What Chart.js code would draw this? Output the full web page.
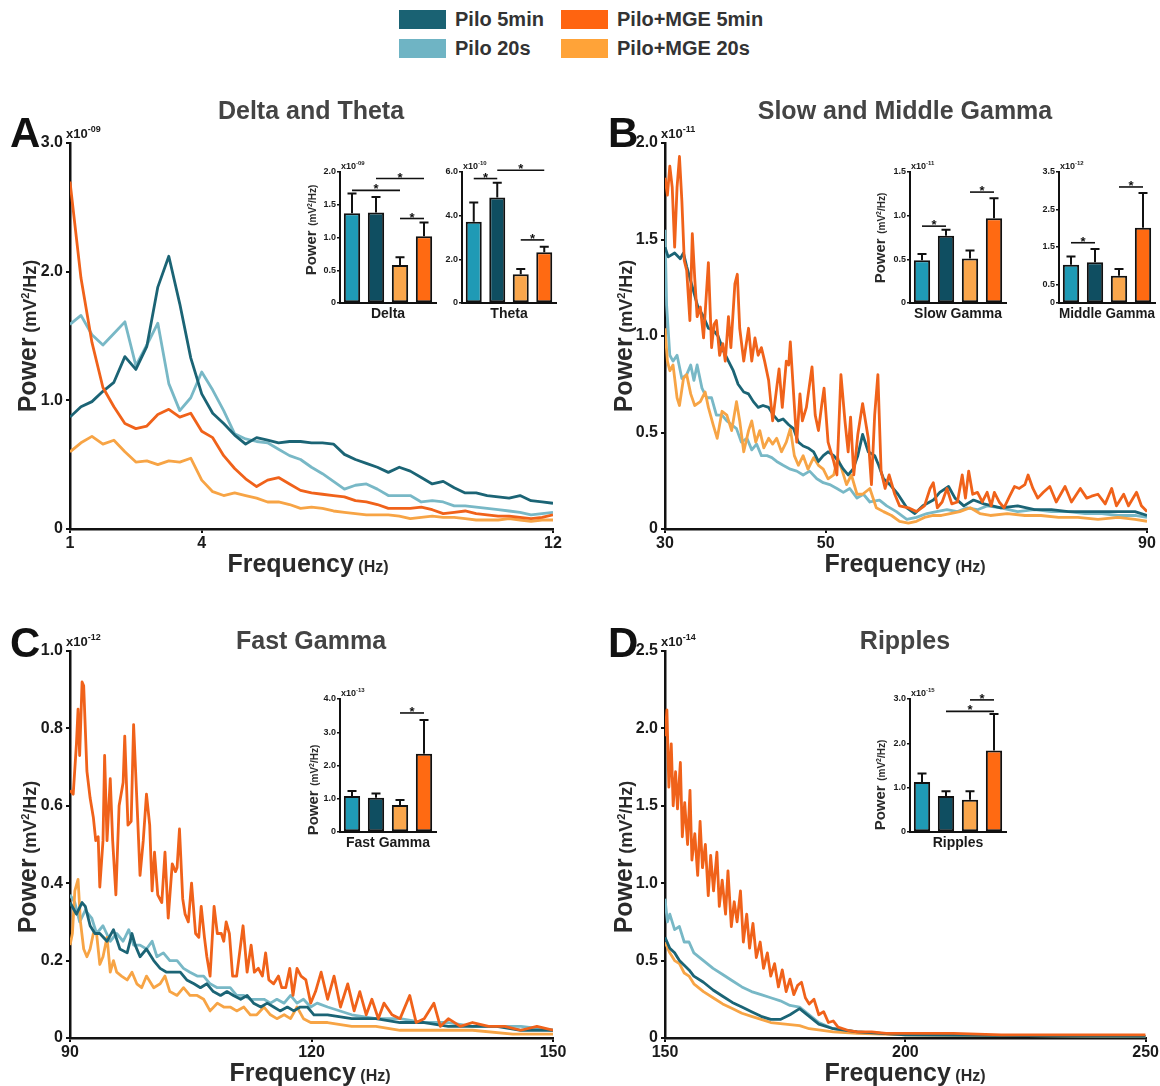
<!DOCTYPE html>
<html><head><meta charset="utf-8">
<script src="https://cdn.jsdelivr.net/npm/chart.js"></script>
<style>
html,body{margin:0;padding:0;background:#fff;width:1160px;height:1086px;overflow:hidden;font-family:"Liberation Sans",Arial,sans-serif;}
canvas{position:absolute;}
.t{position:absolute;white-space:nowrap;font-weight:bold;line-height:1;}
.c{transform:translate(-50%,-50%);}
.rot{position:absolute;white-space:nowrap;font-weight:bold;line-height:1;transform:translate(-50%,-50%) rotate(-90deg);color:#2a2a2a;}
.sw{position:absolute;width:47px;height:19px;}
</style></head><body>

<script>
// ---------------- DATA ----------------
const GROUPS = ['Pilo 20s','Pilo 5min','Pilo+MGE 20s','Pilo+MGE 5min'];
const SERIES_NAMES = ['Pilo+MGE 5min','Pilo 5min','Pilo+MGE 20s','Pilo 20s'];

// Panel A: Delta and Theta (x10^-09)
const freqA = [1,1.25,1.5,1.75,2,2.25,2.5,2.75,3,3.25,3.5,3.75,4,4.25,4.5,4.75,5,5.25,5.5,5.75,6,6.25,6.5,6.75,7,7.25,7.5,7.75,8,8.25,8.5,8.75,9,9.25,9.5,9.75,10,10.25,10.5,10.75,11,11.25,11.5,11.75,12];
const pilo5A = [0.87,0.95,0.99,1.07,1.14,1.34,1.24,1.42,1.88,2.12,1.75,1.33,1.05,0.90,0.82,0.73,0.66,0.71,0.69,0.67,0.68,0.68,0.67,0.67,0.66,0.58,0.54,0.51,0.48,0.44,0.48,0.45,0.40,0.35,0.37,0.32,0.28,0.28,0.26,0.25,0.24,0.26,0.22,0.21,0.20];
const pilo20A = [1.59,1.66,1.51,1.43,1.52,1.61,1.27,1.43,1.60,1.13,0.92,1.02,1.22,1.08,0.92,0.74,0.70,0.68,0.67,0.62,0.57,0.54,0.48,0.43,0.37,0.31,0.34,0.35,0.31,0.26,0.26,0.26,0.21,0.22,0.21,0.18,0.18,0.17,0.16,0.15,0.14,0.13,0.11,0.12,0.13];
const mge5A = [2.70,1.95,1.45,1.10,0.95,0.82,0.78,0.80,0.89,0.93,0.87,0.90,0.76,0.71,0.57,0.47,0.39,0.33,0.38,0.40,0.35,0.30,0.28,0.27,0.26,0.25,0.22,0.21,0.19,0.16,0.16,0.16,0.17,0.15,0.12,0.13,0.14,0.12,0.11,0.10,0.10,0.09,0.08,0.09,0.11];
const mge20A = [0.60,0.67,0.72,0.66,0.69,0.60,0.52,0.53,0.50,0.53,0.52,0.55,0.38,0.29,0.26,0.28,0.26,0.24,0.21,0.21,0.19,0.16,0.17,0.16,0.14,0.13,0.12,0.11,0.11,0.11,0.10,0.08,0.09,0.10,0.09,0.09,0.08,0.07,0.07,0.07,0.08,0.07,0.06,0.07,0.07];
const xTicksA = [1,4,12], xLabelsA = ['1','4','12'];
const yTicksA = [0,1,2,3], yLabelsA = ['0','1.0','2.0','3.0'];

// Panel B: Slow and Middle Gamma (x10^-11)
const fB_mge5 = [30.0,30.3,30.6,30.9,31.2,31.5,31.8,32.1,32.4,32.7,33.1,33.4,33.7,34.0,34.4,34.8,35.4,35.8,36.1,36.4,36.8,37.2,37.5,37.9,38.2,38.7,39.0,39.3,39.8,40.4,40.8,41.2,41.6,42.0,42.4,42.9,43.4,43.9,44.2,44.6,45.1,45.4,45.6,46.1,46.4,46.8,47.1,47.6,48.3,48.7,49.1,49.5,49.8,50.3,51.0,51.4,51.9,52.4,52.8,53.1,53.5,54.0,54.6,55.3,55.7,56.1,56.5,56.9,57.4,57.9,58.6,59.2,60.3,61.3,62.3,63.0,63.4,63.9,64.5,65.1,65.7,66.4,67.0,67.4,67.8,68.3,68.9,69.5,70.1,70.6,71.0,71.6,72.2,72.9,73.5,74.1,74.8,75.2,75.8,76.4,77.1,77.9,78.7,79.8,80.6,81.7,82.5,83.1,83.9,84.8,85.6,86.2,87.1,87.7,88.7,89.3,90.0];
const pB_mge5 = [1.82,1.73,1.88,1.77,1.46,1.77,1.93,1.70,1.39,1.34,1.08,1.53,1.30,1.10,1.15,0.99,1.38,0.94,1.06,1.08,0.90,0.96,0.87,1.10,0.94,1.27,1.32,1.04,0.87,1.04,0.87,0.99,0.90,0.94,0.87,0.77,0.56,0.73,0.83,0.63,0.87,0.85,0.97,0.64,0.45,0.70,0.56,0.63,0.84,0.59,0.51,0.64,0.73,0.45,0.35,0.28,0.80,0.56,0.40,0.58,0.28,0.49,0.65,0.47,0.23,0.59,0.80,0.30,0.21,0.28,0.18,0.12,0.11,0.09,0.12,0.21,0.24,0.11,0.14,0.21,0.13,0.14,0.28,0.16,0.30,0.18,0.19,0.14,0.19,0.12,0.19,0.14,0.11,0.17,0.22,0.21,0.23,0.28,0.21,0.16,0.19,0.22,0.14,0.22,0.14,0.21,0.16,0.17,0.18,0.13,0.21,0.12,0.18,0.12,0.19,0.12,0.09];
const fB_pilo5 = [30.0,30.4,31.2,31.9,32.3,32.7,33.3,34.1,34.8,35.4,36.0,36.6,37.3,37.9,38.5,39.1,39.8,40.4,41.0,41.6,42.2,42.9,43.5,44.1,44.7,45.4,46.0,46.6,47.2,47.8,48.5,49.1,49.7,50.3,51.0,51.6,52.2,52.8,53.4,54.0,54.6,55.3,56.1,56.6,57.2,58.0,59.0,60.1,61.1,62.1,63.4,64.2,65.3,66.1,67.2,68.4,69.7,71.8,73.9,76.0,78.1,80.2,82.3,84.4,86.4,88.5,90.0];
const pB_pilo5 = [1.46,1.41,1.43,1.40,1.43,1.36,1.27,1.15,1.10,1.04,1.03,1.00,0.92,0.87,0.82,0.75,0.71,0.70,0.66,0.63,0.64,0.63,0.59,0.56,0.57,0.54,0.52,0.45,0.43,0.42,0.40,0.35,0.38,0.40,0.38,0.35,0.31,0.28,0.31,0.38,0.49,0.40,0.38,0.33,0.26,0.23,0.18,0.11,0.08,0.12,0.15,0.19,0.22,0.16,0.12,0.15,0.13,0.11,0.12,0.10,0.10,0.09,0.09,0.09,0.09,0.09,0.07];
const fB_pilo20 = [30.0,30.2,30.6,31.0,31.5,32.1,32.7,33.2,33.6,34.0,34.6,35.2,35.8,36.4,37.1,37.7,38.3,38.9,39.5,40.2,40.8,41.4,42.0,42.7,43.3,43.9,44.7,45.6,46.4,47.2,48.0,48.9,49.7,50.5,51.4,52.2,53.0,53.9,54.7,55.5,56.7,57.6,58.8,60.1,61.3,62.6,63.8,65.1,66.4,67.6,68.9,70.1,71.8,73.9,76.0,78.1,80.2,82.3,84.4,86.4,88.5,90.0];
const pB_pilo20 = [1.55,1.16,0.90,0.87,0.90,0.78,0.80,0.85,0.77,0.85,0.73,0.68,0.68,0.59,0.59,0.56,0.54,0.52,0.45,0.47,0.41,0.44,0.38,0.38,0.37,0.35,0.33,0.31,0.30,0.28,0.30,0.26,0.24,0.23,0.21,0.19,0.21,0.16,0.18,0.14,0.15,0.12,0.09,0.05,0.06,0.08,0.09,0.10,0.09,0.11,0.10,0.12,0.11,0.09,0.10,0.09,0.09,0.08,0.08,0.07,0.07,0.06];
const fB_mge20 = [30.0,30.3,30.6,31.0,31.5,31.8,32.3,32.7,33.2,33.7,34.4,35.0,35.4,36.0,36.5,37.1,37.7,38.3,38.9,39.3,39.8,40.4,40.8,41.3,41.8,42.3,42.9,43.4,43.9,44.5,45.1,45.6,46.1,46.6,47.2,47.8,48.5,49.1,49.7,50.3,51.0,51.5,52.0,52.6,53.2,53.9,54.6,55.5,56.3,57.2,58.2,59.2,60.3,61.3,62.3,63.4,64.4,65.5,66.7,68.0,69.2,70.5,72.6,74.8,76.8,79.0,81.4,83.9,86.4,88.5,90.0];
const pB_mge20 = [1.04,0.87,0.82,0.85,0.68,0.64,0.78,0.80,0.70,0.64,0.66,0.71,0.63,0.54,0.47,0.61,0.59,0.51,0.66,0.56,0.40,0.51,0.56,0.45,0.51,0.42,0.47,0.44,0.47,0.40,0.45,0.52,0.38,0.33,0.38,0.31,0.37,0.33,0.31,0.26,0.28,0.37,0.31,0.23,0.28,0.18,0.18,0.21,0.11,0.09,0.07,0.04,0.03,0.04,0.06,0.07,0.07,0.08,0.09,0.11,0.08,0.07,0.08,0.07,0.07,0.06,0.06,0.05,0.06,0.05,0.04];
const xTicksB = [30,50,90], xLabelsB = ['30','50','90'];
const yTicksB = [0,0.5,1,1.5,2], yLabelsB = ['0','0.5','1.0','1.5','2.0'];

// Panel C: Fast Gamma (x10^-12)
const fC_mge5 = [90.0,90.4,90.8,91.0,91.2,91.5,91.7,92.1,92.5,92.9,93.2,93.5,93.7,94.1,94.3,94.6,95.0,95.3,95.7,96.1,96.6,96.8,97.2,97.6,97.9,98.4,98.7,99.1,99.5,99.9,100.2,100.5,100.9,101.4,101.8,102.2,102.7,103.1,103.3,103.6,104.0,104.3,104.7,105.1,105.6,106.0,106.3,106.7,107.0,107.4,107.9,108.3,108.8,109.1,109.4,109.8,110.2,110.7,111.5,112.0,112.5,112.9,113.4,113.9,114.3,114.7,115.3,115.9,116.3,116.8,117.3,117.7,118.2,118.7,119.3,119.9,120.5,121.2,122.0,122.8,123.6,124.5,125.3,126.0,126.8,127.5,128.3,129.0,130.0,131.0,132.2,133.0,134.0,135.2,136.0,137.0,138.5,140.0,142.0,144.0,146.0,148.0,150.0];
const pC_mge5 = [0.64,0.63,0.76,0.85,0.73,0.92,0.91,0.69,0.62,0.57,0.51,0.52,0.39,0.51,0.73,0.51,0.67,0.51,0.37,0.60,0.66,0.78,0.55,0.56,0.81,0.57,0.42,0.51,0.63,0.55,0.38,0.48,0.37,0.35,0.48,0.31,0.45,0.43,0.44,0.54,0.36,0.32,0.30,0.40,0.27,0.26,0.34,0.26,0.21,0.16,0.34,0.27,0.27,0.25,0.30,0.27,0.16,0.16,0.29,0.17,0.24,0.17,0.18,0.16,0.22,0.15,0.14,0.16,0.13,0.13,0.18,0.11,0.18,0.16,0.15,0.09,0.12,0.17,0.10,0.16,0.08,0.14,0.07,0.12,0.06,0.10,0.05,0.09,0.06,0.05,0.11,0.04,0.05,0.09,0.03,0.05,0.03,0.04,0.03,0.03,0.02,0.03,0.02];
const fC_pilo5 = [90.0,90.8,91.5,91.9,92.5,93.1,93.7,94.6,95.4,96.2,97.1,97.7,98.1,98.7,99.5,100.4,101.2,102.0,102.9,103.7,104.5,105.4,106.2,107.0,107.8,108.7,109.5,110.3,111.2,112.0,112.8,113.7,114.5,115.3,116.1,117.0,117.8,118.6,119.5,120.3,122.0,125.0,128.0,131.0,134.0,137.0,140.0,143.0,146.0,150.0];
const pC_pilo5 = [0.35,0.32,0.35,0.34,0.29,0.27,0.27,0.25,0.28,0.23,0.22,0.27,0.24,0.21,0.23,0.20,0.18,0.17,0.17,0.17,0.15,0.14,0.13,0.14,0.12,0.11,0.12,0.11,0.10,0.11,0.09,0.08,0.09,0.08,0.07,0.08,0.07,0.08,0.08,0.06,0.06,0.05,0.05,0.04,0.04,0.03,0.03,0.03,0.02,0.02];
const fC_pilo20 = [90.0,90.6,91.2,91.9,92.7,93.3,94.1,95.0,95.8,96.6,97.3,97.9,98.7,99.5,100.2,100.8,101.6,102.4,103.3,104.1,104.9,105.8,106.6,107.4,108.3,109.1,109.9,110.7,111.6,112.4,113.2,114.1,114.9,115.7,116.6,117.4,118.2,119.0,119.9,120.7,122.0,125.0,128.0,131.0,134.0,137.0,140.0,143.0,146.0,150.0];
const pC_pilo20 = [0.37,0.35,0.30,0.33,0.31,0.27,0.29,0.25,0.27,0.25,0.28,0.24,0.24,0.23,0.25,0.21,0.22,0.20,0.20,0.18,0.17,0.16,0.16,0.14,0.13,0.13,0.13,0.11,0.11,0.10,0.10,0.10,0.09,0.10,0.09,0.11,0.09,0.10,0.08,0.09,0.08,0.06,0.05,0.05,0.04,0.04,0.03,0.03,0.03,0.02];
const fC_mge20 = [90.0,90.3,90.6,91.0,91.3,91.7,92.1,92.5,92.9,93.3,93.7,94.1,94.6,95.0,95.4,95.8,96.4,97.1,97.7,98.3,98.9,99.5,100.4,101.2,101.8,102.4,103.3,104.1,104.9,105.8,106.6,107.4,108.3,109.1,109.9,110.7,111.6,112.4,113.2,114.1,114.9,115.7,116.6,117.4,118.2,119.0,119.9,122.0,125.0,128.0,131.0,135.0,140.0,145.0,150.0];
const pC_mge20 = [0.24,0.27,0.38,0.41,0.30,0.23,0.21,0.23,0.27,0.27,0.19,0.21,0.26,0.17,0.20,0.17,0.16,0.15,0.17,0.14,0.13,0.16,0.13,0.14,0.16,0.12,0.11,0.13,0.11,0.11,0.10,0.07,0.09,0.08,0.08,0.07,0.08,0.06,0.06,0.08,0.06,0.05,0.06,0.05,0.08,0.05,0.04,0.04,0.03,0.03,0.02,0.02,0.02,0.01,0.01];
const xTicksC = [90,120,150], xLabelsC = ['90','120','150'];
const yTicksC = [0,0.2,0.4,0.6,0.8,1.0], yLabelsC = ['0','0.2','0.4','0.6','0.8','1.0'];

// Panel D: Ripples (x10^-14)
const fD_mge5 = [150,150.4,150.8,151.3,151.7,152.2,152.6,153.2,153.6,154.1,154.7,155.2,155.6,156.2,156.8,157.3,157.8,158.4,159.0,159.5,160.1,160.8,161.3,161.9,162.6,163.1,163.8,164.4,165.0,165.7,166.3,167.0,167.6,168.3,169.0,169.8,170.5,171.3,172.0,172.8,173.6,174.4,175.2,176.0,176.8,177.6,178.4,179.2,180.0,181.0,182.0,183.0,184.0,185.0,186.0,188,190,193,196,200,210,220,230,240,250];
const pD_mge5 = [1.95,2.12,1.62,1.90,1.50,1.72,1.48,1.78,1.30,1.52,1.25,1.60,1.15,1.32,1.05,1.40,1.10,1.25,0.92,1.18,0.95,1.20,0.85,1.02,0.80,1.08,0.72,0.88,0.75,0.95,0.62,0.80,0.58,0.74,0.52,0.62,0.45,0.55,0.40,0.48,0.33,0.44,0.30,0.38,0.28,0.34,0.36,0.26,0.22,0.25,0.15,0.17,0.10,0.11,0.07,0.05,0.04,0.04,0.03,0.03,0.03,0.02,0.02,0.02,0.02];
const fD_pilo5 = [150,151,152,153,154,155,156,158,160,162,164,166,168,170,172,174,176,178,180,182,185,190,195,200,250];
const pD_pilo5 = [0.65,0.58,0.55,0.50,0.47,0.44,0.40,0.36,0.31,0.27,0.23,0.20,0.17,0.14,0.12,0.12,0.15,0.19,0.14,0.09,0.06,0.04,0.03,0.02,0.01];
const fD_pilo20 = [150,150.5,151,152,153,154,155,156,158,160,162,164,166,168,170,172,174,176,178,180,182,185,190,195,200,250];
const pD_pilo20 = [0.90,0.75,0.80,0.70,0.72,0.62,0.62,0.55,0.50,0.45,0.41,0.37,0.33,0.30,0.28,0.26,0.24,0.21,0.20,0.15,0.10,0.06,0.04,0.03,0.02,0.01];
const fD_mge20 = [150,151,152,153,154,155,156,158,160,162,164,166,168,170,172,175,178,180,185,190,200,250];
const pD_mge20 = [0.62,0.55,0.50,0.48,0.42,0.40,0.35,0.30,0.26,0.22,0.19,0.16,0.14,0.12,0.10,0.09,0.08,0.06,0.04,0.03,0.02,0.01];
const xTicksD = [150,200,250], xLabelsD = ['150','200','250'];
const yTicksD = [0,0.5,1,1.5,2,2.5], yLabelsD = ['0','0.5','1.0','1.5','2.0','2.5'];

// Inset bar data (order = GROUPS)
const deltaMean = [1.37,1.38,0.58,1.02], deltaErr = [0.30,0.24,0.12,0.21];
const thetaMean = [3.72,4.83,1.32,2.32], thetaErr = [0.88,0.68,0.24,0.26];
const slowMean = [0.49,0.77,0.51,0.97], slowErr = [0.07,0.07,0.09,0.23];
const middleMean = [1.02,1.09,0.73,2.01], middleErr = [0.22,0.35,0.18,0.93];
const fastMean = [1.08,1.03,0.81,2.35], fastErr = [0.15,0.13,0.15,1.02];
const ripMean = [1.13,0.81,0.73,1.84], ripErr = [0.19,0.11,0.19,0.82];
// significance bars: [groupA, groupB, level]
const deltaSig = [[0,2,1.72],[1,3,1.90],[2,3,1.29]];
const thetaSig = [[0,1,5.70],[1,3,6.08],[2,3,2.89]];
const slowSig = [[0,1,0.88],[2,3,1.27]];
const middleSig = [[0,1,1.61],[2,3,3.10]];
const fastSig = [[2,3,3.58]];
const ripSig = [[1,3,2.72],[2,3,2.98]];
const deltaTicks = [0,0.5,1,1.5,2], deltaLabels = ['0','0.5','1.0','1.5','2.0'];
const thetaTicks = [0,2,4,6], thetaLabels = ['0','2.0','4.0','6.0'];
const slowTicks = [0,0.5,1,1.5], slowLabels = ['0','0.5','1.0','1.5'];
const middleTicks = [0,0.5,1.5,2.5,3.5], middleLabels = ['0','0.5','1.5','2.5','3.5'];
const fastTicks = [0,1,2,3,4], fastLabels = ['0','1.0','2.0','3.0','4.0'];
const ripTicks = [0,1,2,3], ripLabels = ['0','1.0','2.0','3.0'];

// ---------------- STYLE ----------------
const F = '"Liberation Sans", Arial, sans-serif';
const LINE_COLORS = ['#f0621a','#1b6475','#f7a445','#78b8c6'];
const BAR_COLORS = ['#1f9ab5','#0f4e61','#f9a64c','#ff6a12'];

function expo(exp, size, dx, dy) {
  return { id:'expo', afterDraw(chart) {
    const a = chart.chartArea, ctx = chart.ctx;
    ctx.save(); ctx.fillStyle = '#1a1a1a'; ctx.textAlign = 'left'; ctx.textBaseline = 'alphabetic';
    ctx.font = 'bold ' + size + 'px ' + F;
    const x = a.left + dx, y = a.top + dy;
    ctx.fillText('x10', x, y);
    const w = ctx.measureText('x10').width;
    ctx.font = 'bold ' + Math.round(size * 0.72) + 'px ' + F;
    ctx.fillText(exp, x + w, y - size * 0.45);
    ctx.restore();
  }};
}

function barExtras(err, sig) {
  return { id:'barExtras', afterDatasetsDraw(chart) {
    const ctx = chart.ctx, meta = chart.getDatasetMeta(0), ys = chart.scales.y;
    const vals = chart.data.datasets[0].data;
    ctx.save(); ctx.strokeStyle = '#111'; ctx.lineWidth = 2;
    meta.data.forEach((bar, i) => {
      const yt = ys.getPixelForValue(vals[i] + err[i]);
      ctx.beginPath(); ctx.moveTo(bar.x, bar.y); ctx.lineTo(bar.x, yt);
      ctx.moveTo(bar.x - 4.5, yt); ctx.lineTo(bar.x + 4.5, yt); ctx.stroke();
    });
    ctx.lineWidth = 1.6; ctx.fillStyle = '#111';
    ctx.font = 'bold 13px ' + F; ctx.textAlign = 'center'; ctx.textBaseline = 'alphabetic';
    sig.forEach(([a, b, lvl]) => {
      const y = ys.getPixelForValue(lvl), x1 = meta.data[a].x, x2 = meta.data[b].x;
      ctx.beginPath(); ctx.moveTo(x1, y); ctx.lineTo(x2, y); ctx.stroke();
      ctx.fillText('*', (x1 + x2) / 2, y + 3);
    });
    ctx.restore();
  }};
}

function makeCanvas(box) {
  const c = document.createElement('canvas');
  c.width = box.w; c.height = box.h;
  c.style.left = box.l + 'px'; c.style.top = box.t + 'px';
  c.style.width = box.w + 'px'; c.style.height = box.h + 'px';
  document.body.appendChild(c);
  return c;
}

function mainChart(p) {
  const c = makeCanvas(p.box);
  new Chart(c, {
    type: 'line',
    data: { datasets: p.series.map((s, k) => ({
      label: SERIES_NAMES[k],
      data: s.x.map((x, i) => ({ x: x, y: s.y[i] })),
      borderColor: LINE_COLORS[k], borderWidth: 2.8, pointRadius: 0, tension: 0,
      fill: false, borderJoinStyle: 'round'
    })) },
    options: {
      responsive: false, animation: false, events: [],
      layout: { padding: { top: p.area.t - p.box.t, right: p.box.l + p.box.w - p.area.r, left: 0, bottom: 0 } },
      plugins: { legend: { display: false }, tooltip: { enabled: false } },
      scales: {
        x: { type: 'linear', min: p.x.min, max: p.x.max,
          afterBuildTicks: a => { a.ticks = p.x.ticks.map(v => ({ value: v })); },
          afterFit: a => { a.height = p.box.t + p.box.h - p.area.b; },
          ticks: { callback: (v, i) => p.x.labels[i], font: { family: F, weight: 'bold', size: 16 }, color: '#1a1a1a', padding: 1, maxRotation: 0, autoSkip: false },
          grid: { drawOnChartArea: false, drawTicks: true, tickLength: 4, color: '#111', lineWidth: 2 },
          border: { color: '#111', width: 2.5 } },
        y: { type: 'linear', min: p.y.min, max: p.y.max,
          afterBuildTicks: a => { a.ticks = p.y.ticks.map(v => ({ value: v })); },
          afterFit: a => { a.width = p.area.l - p.box.l; },
          ticks: { callback: (v, i) => p.y.labels[i], font: { family: F, weight: 'bold', size: 16 }, color: '#1a1a1a', padding: 3, autoSkip: false },
          grid: { drawOnChartArea: false, drawTicks: true, tickLength: 4, color: '#111', lineWidth: 2 },
          border: { color: '#111', width: 2.5 } }
      }
    },
    plugins: [expo(p.exp, 13, -4, -5)]
  });
}

function insetChart(d) {
  const c = makeCanvas(d.box);
  new Chart(c, {
    type: 'bar',
    data: { labels: GROUPS, datasets: [{ data: d.mean, backgroundColor: BAR_COLORS, borderColor: '#111', borderWidth: 2, borderSkipped: false, categoryPercentage: 1, barPercentage: 0.68 }] },
    options: {
      responsive: false, animation: false, events: [],
      layout: { padding: { top: d.area.t - d.box.t, right: d.box.l + d.box.w - d.area.r, left: 0, bottom: 0 } },
      plugins: { legend: { display: false }, tooltip: { enabled: false } },
      scales: {
        x: { ticks: { display: false }, grid: { display: false }, border: { color: '#111', width: 2 },
          title: { display: true, text: d.name, font: { family: F, weight: 'bold', size: 14 }, color: '#1a1a1a', padding: 0 },
          afterFit: a => { a.height = d.box.t + d.box.h - d.area.b; } },
        y: { min: 0, max: d.max,
          afterBuildTicks: a => { a.ticks = d.ticks.map(v => ({ value: v })); },
          afterFit: a => { a.width = d.area.l - d.box.l; },
          ticks: { callback: (v, i) => d.labels[i], font: { family: F, weight: 'bold', size: 9 }, color: '#1a1a1a', padding: 1, autoSkip: false },
          grid: { drawOnChartArea: false, drawTicks: true, tickLength: 3, color: '#111', lineWidth: 1.5 },
          border: { color: '#111', width: 2 } }
      }
    },
    plugins: [barExtras(d.err, d.sig), expo(d.exp, 9, 1, -3)]
  });
}

// ---------------- BUILD ----------------
mainChart({ box:{l:0,t:115,w:575,h:445}, area:{l:70,r:553,t:143,b:529}, exp:'-09',
  x:{min:1,max:12,ticks:xTicksA,labels:xLabelsA}, y:{min:0,max:3,ticks:yTicksA,labels:yLabelsA},
  series:[{x:freqA,y:mge5A},{x:freqA,y:pilo5A},{x:freqA,y:mge20A},{x:freqA,y:pilo20A}] });
mainChart({ box:{l:595,t:115,w:565,h:445}, area:{l:665,r:1147,t:143,b:529}, exp:'-11',
  x:{min:30,max:90,ticks:xTicksB,labels:xLabelsB}, y:{min:0,max:2,ticks:yTicksB,labels:yLabelsB},
  series:[{x:fB_mge5,y:pB_mge5},{x:fB_pilo5,y:pB_pilo5},{x:fB_mge20,y:pB_mge20},{x:fB_pilo20,y:pB_pilo20}] });
mainChart({ box:{l:0,t:625,w:575,h:447}, area:{l:70,r:553,t:651,b:1038}, exp:'-12',
  x:{min:90,max:150,ticks:xTicksC,labels:xLabelsC}, y:{min:0,max:1,ticks:yTicksC,labels:yLabelsC},
  series:[{x:fC_mge5,y:pC_mge5},{x:fC_pilo5,y:pC_pilo5},{x:fC_mge20,y:pC_mge20},{x:fC_pilo20,y:pC_pilo20}] });
mainChart({ box:{l:595,t:625,w:565,h:447}, area:{l:665,r:1147,t:651,b:1038}, exp:'-14',
  x:{min:150,max:250,ticks:xTicksD,labels:xLabelsD}, y:{min:0,max:2.5,ticks:yTicksD,labels:yLabelsD},
  series:[{x:fD_mge5,y:pD_mge5},{x:fD_pilo5,y:pD_pilo5},{x:fD_mge20,y:pD_mge20},{x:fD_pilo20,y:pD_pilo20}] });

insetChart({ name:'Delta', box:{l:315,t:156,w:125,h:167}, area:{l:340,r:436,t:172,b:303}, max:2, ticks:deltaTicks, labels:deltaLabels, mean:deltaMean, err:deltaErr, sig:deltaSig, exp:'-09' });
insetChart({ name:'Theta', box:{l:437,t:156,w:123,h:167}, area:{l:462,r:556,t:172,b:303}, max:6, ticks:thetaTicks, labels:thetaLabels, mean:thetaMean, err:thetaErr, sig:thetaSig, exp:'-10' });
insetChart({ name:'Slow Gamma', box:{l:885,t:156,w:125,h:167}, area:{l:910,r:1006,t:172,b:303}, max:1.5, ticks:slowTicks, labels:slowLabels, mean:slowMean, err:slowErr, sig:slowSig, exp:'-11' });
insetChart({ name:'Middle Gamma', box:{l:1034,t:156,w:126,h:167}, area:{l:1059,r:1155,t:172,b:303}, max:3.5, ticks:middleTicks, labels:middleLabels, mean:middleMean, err:middleErr, sig:middleSig, exp:'-12' });
insetChart({ name:'Fast Gamma', box:{l:315,t:683,w:125,h:169}, area:{l:340,r:436,t:699,b:832}, max:4, ticks:fastTicks, labels:fastLabels, mean:fastMean, err:fastErr, sig:fastSig, exp:'-13' });
insetChart({ name:'Ripples', box:{l:885,t:683,w:125,h:169}, area:{l:910,r:1006,t:699,b:832}, max:3, ticks:ripTicks, labels:ripLabels, mean:ripMean, err:ripErr, sig:ripSig, exp:'-15' });
</script>

<!-- Legend -->
<div class="sw" style="left:399px;top:10px;background:#1a6273"></div>
<div class="t" style="left:455px;top:9px;font-size:20px;color:#333">Pilo 5min</div>
<div class="sw" style="left:399px;top:39px;background:#6fb4c4"></div>
<div class="t" style="left:455px;top:38px;font-size:20px;color:#333">Pilo 20s</div>
<div class="sw" style="left:561px;top:10px;background:#ff6410"></div>
<div class="t" style="left:617px;top:9px;font-size:20px;color:#333">Pilo+MGE 5min</div>
<div class="sw" style="left:561px;top:39px;background:#ffa338"></div>
<div class="t" style="left:617px;top:38px;font-size:20px;color:#333">Pilo+MGE 20s</div>

<!-- Panel letters and titles -->
<div class="t" style="left:10px;top:112px;font-size:42px;color:#111">A</div>
<div class="t" style="left:608px;top:112px;font-size:42px;color:#111">B</div>
<div class="t" style="left:10px;top:622px;font-size:42px;color:#111">C</div>
<div class="t" style="left:608px;top:622px;font-size:42px;color:#111">D</div>
<div class="t c" style="left:311px;top:110px;font-size:25px;color:#444">Delta and Theta</div>
<div class="t c" style="left:905px;top:110px;font-size:25px;color:#444">Slow and Middle Gamma</div>
<div class="t c" style="left:311px;top:640px;font-size:25px;color:#444">Fast Gamma</div>
<div class="t c" style="left:905px;top:640px;font-size:25px;color:#444">Ripples</div>

<!-- Main axis titles -->
<div class="rot" style="left:27px;top:336px;"><span style="font-size:25px">Power</span> <span style="font-size:18px">(mV<sup style="font-size:11px">2</sup>/Hz)</span></div>
<div class="rot" style="left:623px;top:336px;"><span style="font-size:25px">Power</span> <span style="font-size:18px">(mV<sup style="font-size:11px">2</sup>/Hz)</span></div>
<div class="rot" style="left:27px;top:857px;"><span style="font-size:25px">Power</span> <span style="font-size:18px">(mV<sup style="font-size:11px">2</sup>/Hz)</span></div>
<div class="rot" style="left:623px;top:857px;"><span style="font-size:25px">Power</span> <span style="font-size:18px">(mV<sup style="font-size:11px">2</sup>/Hz)</span></div>
<div class="t c" style="left:308px;top:563px;color:#2a2a2a"><span style="font-size:25px">Frequency</span> <span style="font-size:16px">(Hz)</span></div>
<div class="t c" style="left:905px;top:563px;color:#2a2a2a"><span style="font-size:25px">Frequency</span> <span style="font-size:16px">(Hz)</span></div>
<div class="t c" style="left:310px;top:1072px;color:#2a2a2a"><span style="font-size:25px">Frequency</span> <span style="font-size:16px">(Hz)</span></div>
<div class="t c" style="left:905px;top:1072px;color:#2a2a2a"><span style="font-size:25px">Frequency</span> <span style="font-size:16px">(Hz)</span></div>

<!-- Inset axis titles -->
<div class="rot" style="left:311px;top:230px;"><span style="font-size:15px">Power</span> <span style="font-size:10px">(mV<sup style="font-size:7px">2</sup>/Hz)</span></div>
<div class="rot" style="left:880px;top:238px;"><span style="font-size:15px">Power</span> <span style="font-size:10px">(mV<sup style="font-size:7px">2</sup>/Hz)</span></div>
<div class="rot" style="left:313px;top:790px;"><span style="font-size:15px">Power</span> <span style="font-size:10px">(mV<sup style="font-size:7px">2</sup>/Hz)</span></div>
<div class="rot" style="left:880px;top:785px;"><span style="font-size:15px">Power</span> <span style="font-size:10px">(mV<sup style="font-size:7px">2</sup>/Hz)</span></div>
</body></html>
